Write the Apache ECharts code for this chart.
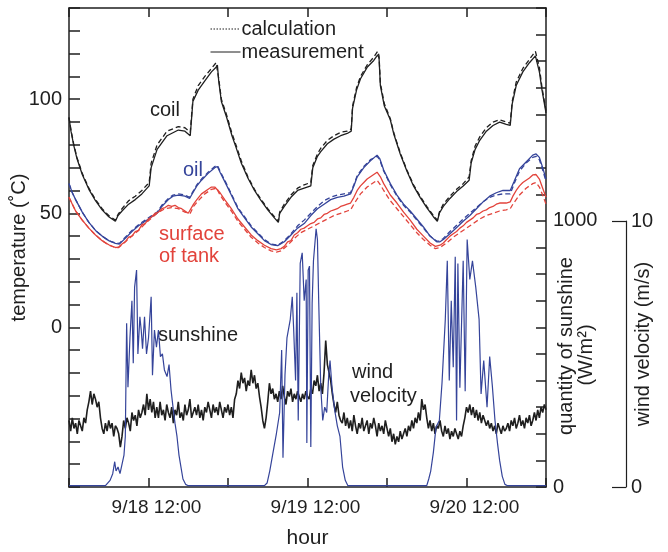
<!DOCTYPE html>
<html>
<head>
<meta charset="utf-8">
<script src="https://cdn.jsdelivr.net/npm/echarts@6/dist/echarts.min.js"></script>
<style>
html,body{margin:0;padding:0;background:#fff;}
#chart{width:668px;height:552px;}
</style>
</head>
<body>
<div id="chart"></div>
<script>
// ---------- DATA (hour since 9/18 0:00, value) ----------
const xTickLabels = {12: '9/18 12:00', 36: '9/19 12:00', 60: '9/20 12:00'};
const tempLabels = [0, 50, 100];
const sunLabels = [0, 1000];
const windLabels = [0, 10];

const coilMeasured = [[0,92],[0.3,86],[0.7,80],[1.2,74],[2,67],[3,60.5],[4,55.5],[5,51.5],[6,48.5],[7,46.5],[7.2,46],[7.4,49],[8,51],[9,54],[10,56],[11,58.5],[12.1,62],[12.4,70],[13.3,78],[14.8,84],[16.5,86.5],[17.5,86],[18.3,84],[18.7,99],[19.5,104],[20.5,108],[21.5,112],[22.2,114],[22.4,115],[22.6,108],[23,99],[23.8,92],[24.6,84],[25.2,79],[26,72],[27,65.5],[28,60],[29,55.5],[30,51.5],[31,48],[31.6,46],[31.8,50],[32.5,53],[33.5,57],[34.5,60],[35.5,61],[36.5,62],[36.8,70],[37.5,75],[38,77],[39,80.5],[40,82.5],[41,84],[42,85],[42.6,86],[42.8,96],[43.4,104],[44,109],[45,114],[46,117],[46.6,119.5],[46.8,118],[47,106],[47.6,97],[48.5,91],[49,85],[50,76],[51,68.5],[52,62],[53,57],[54,52.5],[55,48.5],[55.6,46.5],[55.9,50],[56.5,53],[57.5,56.5],[58.5,59.5],[59.5,62],[60.4,64.5],[60.7,72],[61.3,78],[62,82],[63,86],[64,88.5],[65,90],[66,89],[66.6,88.5],[66.9,98],[67.5,106],[68.5,112],[69.5,116],[70.4,119],[70.7,119],[71,112],[71.4,104],[72,94]];
const coilCalculated = [[0,92],[0.3,86.5],[0.7,80.5],[1.2,74.5],[2,67.5],[3,61],[4,56],[5,52],[6,49],[7,47],[7.2,46.5],[7.4,49.5],[8,52],[9,55.5],[10,57.5],[11,60],[12.1,63.5],[12.4,72],[13.3,80],[14.8,86],[16.5,88],[17.5,87.5],[18.3,85.5],[18.7,100],[19.5,106],[20.5,110],[21.5,113.5],[22.2,116],[22.4,116.5],[22.6,109],[23,100],[23.8,93],[24.6,85],[25.2,80],[26,73],[27,66],[28,60.5],[29,56],[30,52],[31,48.5],[31.6,46.5],[31.8,50.5],[32.5,54],[33.5,58],[34.5,61],[35.5,62.5],[36.5,63.5],[36.8,71],[37.5,76],[38,78.5],[39,82],[40,84],[41,85.5],[42,86],[42.6,87],[42.8,97],[43.4,105],[44,110],[45,115],[46,118.5],[46.6,121],[46.8,119],[47,107],[47.6,98],[48.5,91.5],[49,85.5],[50,76.5],[51,69],[52,62.5],[53,57.5],[54,53],[55,49],[55.6,47],[55.9,50.5],[56.5,54],[57.5,57.5],[58.5,60.5],[59.5,63],[60.4,66],[60.7,73],[61.3,79.5],[62,83.5],[63,87.5],[64,90],[65,91],[66,90],[66.6,89.5],[66.9,99],[67.5,107.5],[68.5,113.5],[69.5,117.5],[70.4,121],[70.7,121],[71,114],[71.4,105],[72,95]];

const oilMeasured = [[0,63],[0.5,59],[1,56],[2,50.5],[3,46],[4,42.5],[5,40],[6,38],[7,36.8],[7.6,36.5],[8.5,39],[9.5,42],[10.5,44.5],[11.5,46.5],[12.5,48.5],[13.3,50],[14,53],[15,56],[15.7,57.5],[16.5,58],[17.5,57.5],[18.2,56.5],[18.5,58],[19.3,62],[20,64.5],[21,67.5],[22,70],[22.4,70.5],[22.8,68],[23.5,64],[24.5,58],[25.5,52],[26.5,48],[27.5,44],[28.5,41],[29.5,38],[30.5,36.3],[31.5,35.8],[32.5,37.5],[33.5,40.5],[34.5,43.5],[35.5,45.5],[36.5,49],[37.5,52],[38.5,54],[39.5,56],[40.5,57],[41.5,57.5],[42.5,58.5],[43,62],[43.5,66],[44.5,70],[45.5,73],[46.5,75.5],[46.9,74],[47.5,69],[48.5,63],[49.5,58],[50.5,54],[51.5,51],[52.5,47.5],[53.5,44],[54.5,40],[55.5,37.5],[56,37.5],[56.5,38.5],[57.5,41],[58.6,44],[59.5,46.5],[60.5,49],[61.5,52],[62.5,55],[63.5,57.5],[64.5,59],[65.5,60],[66.6,60],[67.2,64],[68,69.5],[69,72.5],[70,75.5],[70.5,76],[71,74.5],[71.5,70],[72,65]];
const oilCalculated = [[0,63],[0.5,59],[1,56],[2,50.5],[3,46],[4,42.5],[5,40],[6,38],[7,37],[7.6,36.8],[8.5,39.5],[9.5,42.5],[10.5,45],[11.5,47],[12.5,49],[13.3,50.5],[14,53.5],[15,56.5],[15.7,58],[16.5,58.5],[17.5,58],[18.2,57],[18.5,58.5],[19.3,62.5],[20,65],[21,68],[22,70.5],[22.4,71],[22.8,68.5],[23.5,64.5],[24.5,58.5],[25.5,52.5],[26.5,48.5],[27.5,44.5],[28.5,41.5],[29.5,38.5],[30.5,36.5],[31.5,36],[32.5,38],[33.5,41],[34.5,44.5],[35.5,47],[36.5,50],[37.5,53],[38.5,55.5],[39.5,57],[40.5,58],[41.5,58.5],[42.5,59],[43,62.5],[43.5,66.5],[44.5,70.5],[45.5,73.5],[46.5,75],[46.9,73.5],[47.5,68.5],[48.5,62.5],[49.5,57.5],[50.5,53.5],[51.5,50.5],[52.5,47],[53.5,43.5],[54.5,40],[55.5,37.8],[56,37.8],[56.5,39],[57.5,42],[58.6,45],[59.5,47.5],[60.5,50],[61.5,52.5],[62.5,55],[63.5,57],[64.5,58],[65.5,58.5],[66.6,58.5],[67.2,63],[68,68.5],[69,72],[70,74.5],[70.5,75],[71,73.5],[71.5,69],[72,64]];

const tankMeasured = [[0,57],[0.5,54],[1,51],[2,47],[3,43.5],[4,40.5],[5,38],[6,36.2],[7,35],[7.5,35.2],[8,36.5],[8.5,37.5],[9,39.5],[9.5,40],[10,42],[10.5,42.5],[11,45],[11.5,45.5],[12,47.5],[12.5,48.5],[13,50],[13.5,50.5],[14,52],[14.5,52.5],[15,53.5],[15.5,53],[16,53.5],[16.5,52.5],[17,52],[17.5,51],[18,50],[18.3,50.5],[18.8,54],[19.3,56],[20,58.5],[20.5,59.5],[21,60.5],[21.5,61.5],[22,61.5],[22.3,62],[22.8,59],[23.5,56],[24.5,52],[25.5,47.5],[26.5,44],[27.5,40.5],[28.5,38],[29.5,36],[30.5,34.5],[31.3,34],[32,34.5],[32.5,35.5],[33,37.5],[33.5,38],[34,40.5],[34.5,41.5],[35,43],[35.5,43.5],[36,44.5],[36.5,45.5],[37,46],[37.5,47.5],[38,48],[38.5,49.5],[39,50],[39.5,51],[40,51.5],[40.5,52],[41,53],[41.5,53.5],[42,54],[42.5,54.5],[43,57],[43.5,60],[44,62],[44.5,63.5],[45,65],[45.5,66],[46,67],[46.5,68],[47,66],[47.5,63],[48.5,58],[49.5,54.5],[50.5,50.5],[51.5,47],[52.5,43],[53.5,40],[54.5,37],[55.3,35.5],[56,36],[56.5,37],[57,38.5],[57.5,40],[58,41],[58.5,42],[59,43.5],[59.5,44.5],[60,46],[60.5,47],[61,48],[61.5,49.5],[62,50],[62.5,51],[63,51.5],[63.5,52.5],[64,53],[64.5,54],[65,54.5],[65.5,54.5],[66,54.5],[66.6,55],[67,57.5],[67.5,60],[68,62],[68.5,63.5],[69,64.5],[69.5,65.5],[70,66.8],[70.5,67],[71,65],[71.5,61],[72,57]];
const tankCalculated = [[0,57],[0.5,54],[1,51],[2,47],[3,43.5],[4,40.5],[5,38],[6,36],[7,35],[7.5,35],[8.5,37.5],[9.5,40],[10.5,42.5],[11.5,45.5],[12.5,48],[13.5,50.5],[14.5,52],[15.5,52.5],[16.5,52],[17.5,50.5],[18.3,50],[18.8,53],[19.5,55.5],[20.5,58.5],[21.5,60.5],[22.3,61],[22.8,58],[23.5,55],[24.5,51],[25.5,46.5],[26.5,43],[27.5,39.5],[28.5,37],[29.5,35],[30.5,33.5],[31.3,33],[32,33.5],[33,36],[34,39],[35,41.5],[36,43],[37,44.5],[38,46],[39,47.5],[40,49],[41,50],[42,51],[42.5,51.5],[43,54],[44,58.5],[45,61.5],[46,63.5],[46.5,64.5],[47,62.5],[47.5,60],[48.5,55.5],[49.5,52],[50.5,48.5],[51.5,45],[52.5,41.5],[53.5,38.5],[54.5,36],[55.3,34.5],[56,35],[57,37],[58,39.5],[59,41.5],[60,43.5],[61,45.5],[62,47.5],[63,49],[64,50],[65,51],[66,51.5],[66.6,52],[67,54],[68,58],[69,61],[70,63],[70.5,63.5],[71,61.5],[71.5,58],[72,54]];

const sunshine = [[0,5],[5.5,5],[5.8,8],[6.2,25],[6.6,50],[6.9,95],[7.1,60],[7.4,75],[7.7,50],[8.0,55],[8.3,120],[8.5,190],[8.7,615],[8.9,375],[9.2,560],[9.5,700],[9.7,465],[9.9,750],[10.2,815],[10.4,500],[10.7,640],[10.9,590],[11.1,520],[11.4,640],[11.7,500],[12.0,560],[12.4,715],[12.6,420],[12.9,590],[13.2,525],[13.5,590],[13.8,490],[14.1,500],[14.4,440],[14.8,415],[15.1,460],[15.4,365],[15.7,300],[16.0,240],[16.3,190],[16.6,120],[16.9,75],[17.2,30],[17.6,10],[18,5],[29.5,5],[29.9,15],[30.3,60],[30.8,130],[31.3,200],[31.8,280],[32.1,515],[32.3,110],[32.6,420],[32.9,560],[33.4,630],[33.7,715],[33.9,600],[34.2,400],[34.4,730],[34.6,250],[34.9,840],[35.2,880],[35.5,700],[35.8,780],[35.9,165],[36.1,815],[36.3,830],[36.5,150],[36.7,690],[36.9,850],[37.3,970],[37.5,930],[37.7,690],[38.0,375],[38.3,250],[38.6,300],[38.9,280],[39.2,420],[39.4,475],[39.7,375],[40.1,290],[40.5,230],[40.9,190],[41.3,75],[41.7,25],[42.1,5],[54,5],[54.3,30],[54.6,60],[55.0,130],[55.4,225],[55.9,250],[56.3,390],[56.8,630],[57.1,850],[57.4,400],[57.7,700],[58.0,450],[58.3,865],[58.5,250],[58.7,840],[59.0,373],[59.5,850],[59.8,360],[60.1,930],[60.5,780],[60.9,850],[61.4,750],[61.9,630],[62.2,350],[62.6,475],[63.1,300],[63.5,490],[63.9,380],[64.3,250],[64.7,160],[65.0,100],[65.4,40],[65.8,10],[66.2,5],[72,5]];

// wind velocity (m/s), one reading every 15 minutes from 9/18 0:00
const windStepHours = 0.25;
const windVelocity = [2.5,2.1,2.6,2.2,2.4,2.0,2.5,2.3,2.1, 2.6,2.4,2.9,3.2, 3.6,3.1,3.5,3.3,3.0,3.2, 2.6,2.2,2.0,2.4, 2.1,2.5,2.2,2.4,1.9,2.3,2.2,2.0, 1.5,1.9,2.5,2.2, 2.6,2.4,2.1,2.8,2.5,2.7,2.3,2.9,2.6,2.8, 3.1,2.7,3.5,2.9,3.3,2.8,3.2,2.6,
3.0,2.6,3.2,2.7,2.9,2.5,3.1,2.8, 2.6,3.0,2.4,2.9,2.7,3.2,2.6,2.8, 2.5,3.1,2.7,2.9,3.3,2.6,2.8,3.0, 2.7,3.1,2.6,2.9,2.5,3.0,2.8,3.2, 2.9,2.6,3.1,2.8,3.0,2.7,3.2,2.9, 2.6,3.0,2.8,3.1,
2.7,3.0,2.6,3.3,3.5, 4.0,3.7,4.3,3.9,4.1,3.6,4.0,3.8,4.4,3.9,4.2,3.7,3.9, 3.4,3.0,2.5,2.2,2.6,3.2, 3.9,3.5,3.7,3.3,
3.5,3.2,3.6,3.3,3.8,3.4,3.1,3.6,3.4,3.7,3.2,3.5,3.3,3.6,3.4,3.2,3.5,3.3,3.6,3.4, 3.3,3.7,3.5,4.0,3.8,4.2,3.6,3.9,3.5,4.3, 5.5,4.6,4.3, 4.0,3.5,3.1,2.8,3.2,2.7,2.5,
2.4,2.8,2.3,2.6,2.2,2.5,2.1,2.7,2.3,2.0,2.4,2.2,2.6,2.1,2.3,2.5,2.0,2.4,2.2,2.6,2.3,1.9,2.4,2.1,2.3,2.0,2.5,2.2,
1.9,2.2,1.7,2.0,1.6,1.9,1.7,2.1,1.8,2.0, 2.2,1.9,2.3,2.1,2.5,2.2,2.6,2.4,2.8,2.5, 3.3,2.9,3.1,2.6, 2.2,2.5,2.1,2.4,2.0,2.3,2.2,2.5,
2.1,1.9,2.3,2.0,2.2,1.8,2.1,1.9,2.2,2.0,1.8,2.1,1.9,2.3, 2.6,3.0,2.8,3.1,2.7,3.0, 2.6,2.9,2.5,2.8,2.4,2.7,2.5,2.3,
2.5,2.2,2.4,2.1,2.3,2.0,2.4,2.2,2.0,2.3,2.1,2.2, 2.4,2.1,2.5,2.3,2.6,2.2,2.4,2.7,2.3,2.5,2.2,2.6,2.4,2.7,2.3,2.5, 2.8,2.5,2.9,2.6,3.0,2.8,3.1,2.9];
const windData = windVelocity.map((v, i) => [i * windStepHours, v]);

// ---------- STYLE ----------
const FONT = '"Liberation Sans", Arial, Helvetica, sans-serif';
const BLACK = '#1f1f1f';
const BLUE = '#35449a';
const RED = '#e2433b';
const axisLineStyle = {color: BLACK, width: 1.5};

const chart = echarts.init(document.getElementById('chart'), null, {renderer: 'canvas'});

function lineSeries(name, data, color, dashed, yIdx, width) {
  return {
    name: name, type: 'line', data: data, xAxisIndex: 0, yAxisIndex: yIdx || 0,
    symbol: 'none', smooth: false, animation: false, silent: true,
    lineStyle: {color: color, width: width || 1.3, type: dashed ? [5, 3] : 'solid'},
    itemStyle: {color: color}
  };
}

const option = {
  animation: false,
  backgroundColor: '#fff',
  textStyle: {fontFamily: FONT},
  grid: [
    {left: 69, right: 122, top: 8, bottom: 65, outerBoundsMode: 'none', containLabel: false},
    {left: 546, right: 42, top: 221, bottom: 65, outerBoundsMode: 'none', containLabel: false}
  ],
  legend: {
    left: 205, top: 14, orient: 'vertical',
    itemWidth: 30, itemHeight: 14, itemGap: 3,
    selectedMode: false,
    itemStyle: {opacity: 0},
    textStyle: {fontSize: 20, color: BLACK, fontFamily: FONT, padding: [0, 0, 0, -4]},
    data: [
      {name: 'calculation', itemStyle: {opacity: 0}, lineStyle: {type: [1.5, 1.5], width: 1, color: BLACK}},
      {name: 'measurement', itemStyle: {opacity: 0}, lineStyle: {type: 'solid', width: 1, color: BLACK}}
    ]
  },
  xAxis: [
    {
      type: 'value', gridIndex: 0, min: 0, max: 72, interval: 12, position: 'bottom',
      axisLine: {show: true, onZero: false, lineStyle: axisLineStyle},
      axisTick: {show: true, inside: true, length: 9, lineStyle: axisLineStyle},
      axisLabel: {
        show: true, margin: 11, fontSize: 19, color: BLACK, fontFamily: FONT,
        padding: [0, 0, 0, 16],
        formatter: v => xTickLabels[v] || ''
      },
      splitLine: {show: false},
      name: 'hour', nameLocation: 'middle', nameGap: 41, nameMoveOverlap: false,
      nameTextStyle: {fontSize: 21, color: BLACK, fontFamily: FONT}
    },
    {
      type: 'value', gridIndex: 0, min: 0, max: 72, interval: 12, position: 'top',
      axisLine: {show: true, onZero: false, lineStyle: axisLineStyle},
      axisTick: {show: true, inside: true, length: 9, lineStyle: axisLineStyle},
      axisLabel: {show: false}, splitLine: {show: false}
    },
    {type: 'value', gridIndex: 1, min: 0, max: 1, show: false, axisLine: {onZero: false}}
  ],
  yAxis: [
    {
      type: 'value', gridIndex: 0, min: -70, max: 140, interval: 10, position: 'left',
      axisLine: {show: true, onZero: false, lineStyle: axisLineStyle},
      axisTick: {show: true, inside: true, length: 11, lineStyle: axisLineStyle},
      axisLabel: {
        show: true, margin: 7, fontSize: 20, color: BLACK, fontFamily: FONT,
        formatter: v => tempLabels.includes(v) ? String(v) : ''
      },
      splitLine: {show: false},
      name: 'temperature (˚C)', nameLocation: 'middle', nameGap: 40, nameRotate: 90, nameMoveOverlap: false,
      nameTextStyle: {fontSize: 20, color: BLACK, fontFamily: FONT}
    },
    {
      type: 'value', gridIndex: 0, min: 0, max: 1800, interval: 100, position: 'right',
      axisLine: {show: true, onZero: false, lineStyle: axisLineStyle},
      axisTick: {show: true, inside: true, length: 10, lineStyle: axisLineStyle},
      axisLabel: {
        show: true, margin: 7, fontSize: 20, color: BLACK, fontFamily: FONT,
        formatter: v => sunLabels.includes(v) ? String(v) : ''
      },
      splitLine: {show: false}
    },
    {type: 'value', gridIndex: 0, min: 0, max: 18, show: false, axisLine: {onZero: false}},
    {
      type: 'value', gridIndex: 1, min: 0, max: 10, interval: 10, position: 'right',
      axisLine: {show: true, onZero: false, lineStyle: {color: BLACK, width: 1.2}},
      axisTick: {show: true, inside: true, length: 14, lineStyle: {color: BLACK, width: 1.2}},
      axisLabel: {
        show: true, margin: 5, fontSize: 20, color: BLACK, fontFamily: FONT,
        formatter: v => windLabels.includes(v) ? String(v) : ''
      },
      splitLine: {show: false}
    }
  ],
  series: [
    lineSeries('calculation', coilCalculated, BLACK, true),
    lineSeries('measurement', coilMeasured, BLACK, false),
    lineSeries('calculation', oilCalculated, BLUE, true),
    lineSeries('measurement', oilMeasured, BLUE, false),
    lineSeries('calculation', tankCalculated, RED, true),
    lineSeries('measurement', tankMeasured, RED, false),
    lineSeries('wind velocity', windData, BLACK, false, 2, 1.6),
    lineSeries('sunshine', sunshine, BLUE, false, 1, 1.2)
  ],
  graphic: [
    {type: 'text', x: 150, y: 110, style: {text: 'coil', font: '20px ' + FONT, fill: BLACK, textVerticalAlign: 'middle'}},
    {type: 'text', x: 183, y: 170, style: {text: 'oil', font: '20px ' + FONT, fill: BLUE, textVerticalAlign: 'middle'}},
    {type: 'text', x: 159, y: 234, style: {text: 'surface', font: '20px ' + FONT, fill: RED, textVerticalAlign: 'middle'}},
    {type: 'text', x: 159, y: 256, style: {text: 'of tank', font: '20px ' + FONT, fill: RED, textVerticalAlign: 'middle'}},
    {type: 'text', x: 158, y: 335, style: {text: 'sunshine', font: '20px ' + FONT, fill: BLACK, textVerticalAlign: 'middle'}},
    {type: 'text', x: 352, y: 372, style: {text: 'wind', font: '20px ' + FONT, fill: BLACK, textVerticalAlign: 'middle'}},
    {type: 'text', x: 350, y: 396, style: {text: 'velocity', font: '20px ' + FONT, fill: BLACK, textVerticalAlign: 'middle'}},
    {type: 'text', x: 566, y: 346, rotation: Math.PI / 2, style: {text: 'quantity of sunshine', font: '20px ' + FONT, fill: BLACK, textAlign: 'center', textVerticalAlign: 'middle'}},
    {type: 'text', x: 586, y: 355, rotation: Math.PI / 2, style: {text: '(W/m²)', font: '20px ' + FONT, fill: BLACK, textAlign: 'center', textVerticalAlign: 'middle'}},
    {type: 'text', x: 643, y: 344, rotation: Math.PI / 2, style: {text: 'wind velocity (m/s)', font: '20px ' + FONT, fill: BLACK, textAlign: 'center', textVerticalAlign: 'middle'}}
  ]
};
chart.setOption(option);
</script>
</body>
</html>
